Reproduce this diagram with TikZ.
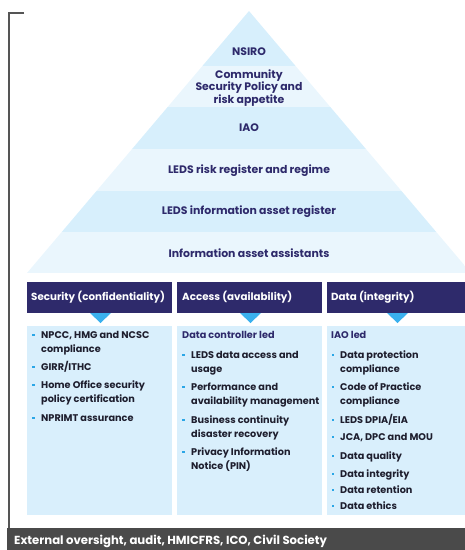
\documentclass[tikz,border=0pt]{standalone}
\usepackage{fontspec}
\setmainfont{Poppins}
\definecolor{navy}{HTML}{2E2A6B}
\definecolor{bandA}{HTML}{D7EFFC}
\definecolor{bandB}{HTML}{EAF6FD}
\definecolor{panel}{HTML}{D9EFFC}
\definecolor{pointer}{HTML}{3AB0EE}
\definecolor{bulletc}{HTML}{2AA6E6}
\definecolor{barc}{HTML}{4A4A4A}
\definecolor{bracketc}{HTML}{555555}
\definecolor{ink}{HTML}{1E1E2E}
\begin{document}
\begin{tikzpicture}[x=1pt,y=-1pt,
  level/.style={font=\bfseries\fontsize{10.9}{12.6}\selectfont, text=navy, align=center, inner sep=0pt},
  header/.style={text=white, font=\bfseries\fontsize{10.3}{12}\selectfont, inner sep=0pt, anchor=west},
  panelbox/.style={fill=panel},
  item/.style={font=\bfseries\fontsize{9.7}{14}\selectfont, text=ink, align=left, inner sep=0pt, anchor=base west},
  lead/.style={font=\bfseries\fontsize{9.7}{14}\selectfont, text=navy, inner sep=0pt, anchor=base west},
  dot/.style={fill=bulletc, minimum size=2.6pt, inner sep=0pt},
  tip/.style={fill=pointer}
]
\useasboundingbox (0,0) rectangle (465,550);

% pyramid bands
\begin{scope}
  \clip (249,11) -- (471,273) -- (27,273) -- cycle;
  \fill[bandA] (0,0)   rectangle (470,66);
  \fill[bandB] (0,66)  rectangle (470,107);
  \fill[bandA] (0,107) rectangle (470,149);
  \fill[bandB] (0,149) rectangle (470,191);
  \fill[bandA] (0,191) rectangle (470,232);
  \fill[bandB] (0,232) rectangle (470,273);
\end{scope}

\node[level] (nsiro) at (249,52) {NSIRO};
\node[level] (csp) at (249,88) {Community\\Security Policy and\\risk appetite};
\node[level] (iao) at (249,128) {IAO};
\node[level] (risk) at (249,171) {LEDS risk register and regime};
\node[level] (iar) at (249,212) {LEDS information asset register};
\node[level] (iaa) at (249,253) {Information asset assistants};

% bracket on the left
\draw[bracketc, line width=1.6pt] (24,13) -- (9,13) -- (9,529);

% column headers
\fill[navy] (27,282) rectangle (172,313);
\fill[navy] (177,282) rectangle (322,313);
\fill[navy] (327,282) rectangle (466,313);
\node[header] (hsec) at (31,297.5) {Security (confidentiality)};
\node[header] (hacc) at (182,297.5) {Access (availability)};
\node[header] (hdat) at (331,297.5) {Data (integrity)};

% pointers
\fill[tip] (90,313) -- (111,313) -- (100.5,323) -- cycle;
\fill[tip] (240,313) -- (261,313) -- (250.5,323) -- cycle;
\fill[tip] (387,313) -- (408,313) -- (397.5,323) -- cycle;

% panels
\fill[panelbox] (27,326) rectangle (172,515);
\fill[panelbox] (177,326) rectangle (322,515);
\fill[panelbox] (327,326) rectangle (466,515);

% security column (base anchor sits on the last line)
\node[item] (s1) at (41,352.5) {NPCC, HMG and NCSC\\compliance};
\node[item] (s2) at (41,370.5) {GIRR/ITHC};
\node[item] (s3) at (41,402.5) {Home Office security\\policy certification};
\node[item] (s4) at (41,421.5) {NPRIMT assurance};
\foreach \y in {335,367,385,418} \node[dot] at (33.5,\y) {};

% access column
\node[lead] (alead) at (182,338.5) {Data controller led};
\node[item] (a1) at (191,372.5) {LEDS data access and\\usage};
\node[item] (a2) at (191,404.5) {Performance and\\availability management};
\node[item] (a3) at (191,437.5) {Business continuity\\disaster recovery};
\node[item] (a4) at (191,469.5) {Privacy Information\\Notice (PIN)};
\foreach \y in {355,387,420,452} \node[dot] at (183.5,\y) {};

% data column
\node[lead] (dlead) at (331,338.5) {IAO led};
\node[item] (d1) at (340,372.5) {Data protection\\compliance};
\node[item] (d2) at (340,404.5) {Code of Practice\\compliance};
\node[item] (d3) at (340,423.5) {LEDS DPIA/EIA};
\node[item] (d4) at (340,440.5) {JCA, DPC and MOU};
\node[item] (d5) at (340,459.5) {Data quality};
\node[item] (d6) at (340,477.5) {Data integrity};
\node[item] (d7) at (340,493.5) {Data retention};
\node[item] (d8) at (340,509.5) {Data ethics};
\foreach \y in {355,387,420,437,456,474,490,506} \node[dot] at (333,\y) {};

% bottom bar
\fill[barc] (7,528) rectangle (466,551);
\node[header, font=\bfseries\fontsize{11.7}{12}\selectfont] (ext) at (14,541) {External oversight, audit, HMICFRS, ICO, Civil Society};
\end{tikzpicture}
\end{document}
